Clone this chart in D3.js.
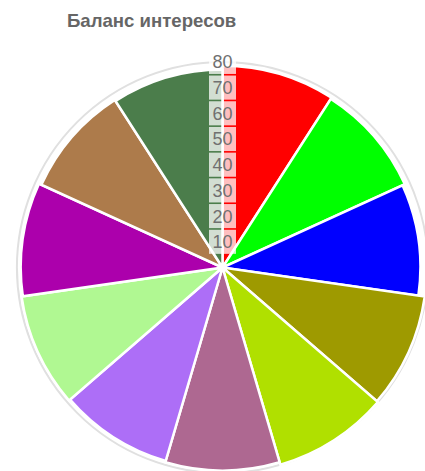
<!DOCTYPE html>
<html>
<head>
<meta charset="utf-8">
<script src="https://cdn.jsdelivr.net/npm/d3@7"></script>
<style>
  html, body { margin: 0; padding: 0; background: #fff; }
  svg { display: block; font-family: "Liberation Sans", Arial, Helvetica, sans-serif; }
</style>
</head>
<body>
<svg id="chart" width="425" height="471"></svg>
<script>
const title = "Баланс интересов";
const categories = ["A", "B", "C", "D", "E", "F", "G", "H", "I", "J", "K"];
const values = [78.5, 78, 77, 79.5, 80, 79, 78.5, 79, 78.5, 77.5, 77];
const colors = ["#ff0000", "#00ff00", "#0000ff", "#9e9a00", "#b0e000", "#ae6891",
                "#ad6ef7", "#b0f892", "#ac00ac", "#ad7b4b", "#4b7d4b"];
const tickValues = [10, 20, 30, 40, 50, 60, 70, 80];

const svg = d3.select("#chart");
const cx = 222.5, cy = 267.5, R = 205.6;

const r = d3.scaleLinear().domain([0, 80]).range([0, R]);
const angle = d3.scaleBand().domain(categories).range([0, 2 * Math.PI]).paddingInner(0).paddingOuter(0);

svg.append("text")
  .attr("x", 67).attr("y", 27)
  .attr("font-size", 18.6).attr("font-weight", "bold")
  .attr("fill", "#666")
  .text(title);

const g = svg.append("g").attr("transform", `translate(${cx},${cy})`);

// grid circles
g.selectAll("circle.grid").data(tickValues).join("circle")
  .attr("class", "grid")
  .attr("r", d => r(d))
  .attr("fill", "none")
  .attr("stroke", "#e0e0e0")
  .attr("stroke-width", 2);

const arc = d3.arc()
  .innerRadius(0)
  .outerRadius(d => r(d.v))
  .startAngle(d => angle(d.c))
  .endAngle(d => angle(d.c) + angle.bandwidth());

g.selectAll("path.sector")
  .data(categories.map((c, i) => ({ c, v: values[i], col: colors[i] })))
  .join("path")
  .attr("class", "sector")
  .attr("d", arc)
  .attr("fill", d => d.col)
  .attr("stroke", "#fff")
  .attr("stroke-width", 2.5)
  .attr("stroke-linejoin", "miter");

// tick labels with backdrops
const spacing = r(10) - r(0);
const ticks = g.selectAll("g.tick").data(tickValues).join("g")
  .attr("class", "tick")
  .attr("transform", d => `translate(0,${-r(d)})`);

ticks.append("rect")
  .attr("x", -13.5)
  .attr("y", -spacing / 2 + 0.8)
  .attr("width", 27)
  .attr("height", spacing - 1.6)
  .attr("fill", "rgba(255,255,255,0.75)");

ticks.append("text")
  .attr("text-anchor", "middle")
  .attr("dy", "0.36em")
  .attr("font-size", 18)
  .attr("fill", "#707070")
  .text(d => d);
</script>
</body>
</html>
